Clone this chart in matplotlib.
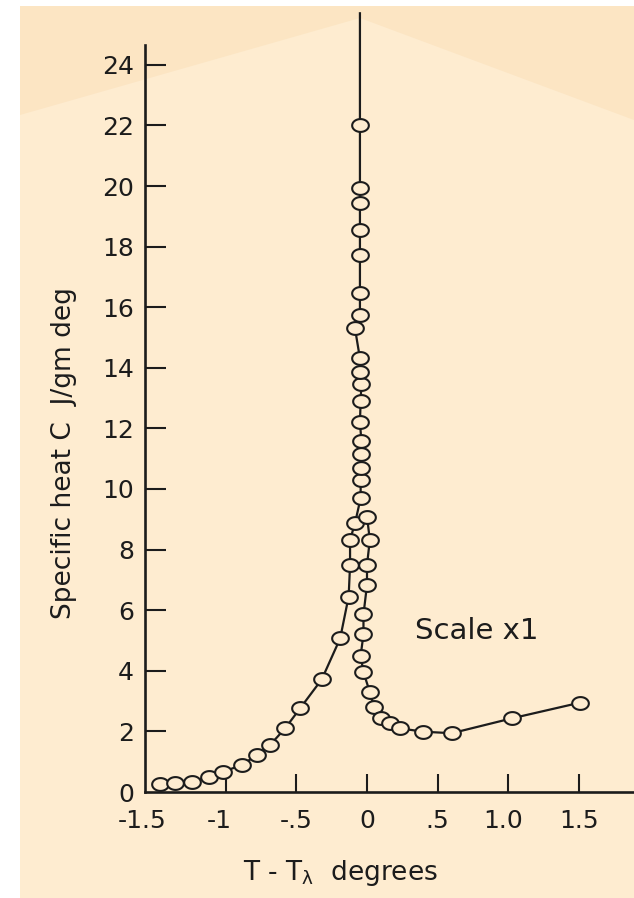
import numpy as np
import matplotlib
matplotlib.use("Agg")
import matplotlib.pyplot as plt
from matplotlib.path import Path
from matplotlib.patches import Rectangle, Polygon
from matplotlib.transforms import ScaledTranslation

# ---------------- data ----------------
# Below the lambda point (T < T_lambda); last entry is the line running off the top (no marker)
left_T = [-1.466, -1.36, -1.24, -1.117, -1.018, -0.887, -0.78, -0.687, -0.58, -0.474,
          -0.32, -0.19, -0.13, -0.12, -0.12, -0.085,
          -0.045, -0.045, -0.04, -0.04, -0.04, -0.05, -0.045, -0.04, -0.05, -0.05,
          -0.085, -0.05, -0.05, -0.05, -0.05, -0.05, -0.05, -0.05, -0.05]
left_C = [0.25, 0.29, 0.34, 0.50, 0.67, 0.89, 1.22, 1.55, 2.10, 2.76,
          3.72, 5.07, 6.45, 7.49, 8.32, 8.87,
          9.70, 10.30, 10.70, 11.15, 11.60, 12.20, 12.90, 13.45, 13.87, 14.31,
          15.30, 15.74, 16.48, 17.72, 18.55, 19.43, 19.92, 22.0, 25.7]

# Above the lambda point (T > T_lambda)
right_T = [0.0, 0.02, 0.0, 0.0, -0.025, -0.025, -0.045, -0.025, 0.02, 0.05,
           0.10, 0.16, 0.234, 0.40, 0.60, 1.025, 1.51]
right_C = [9.09, 8.32, 7.49, 6.83, 5.86, 5.20, 4.50, 3.95, 3.30, 2.80,
           2.45, 2.27, 2.10, 1.99, 1.94, 2.43, 2.95]

x_ticks = [-1.5, -1.0, -0.5, 0.0, 0.5, 1.0, 1.5]
x_tick_labels = ['-1.5', '-1', '-.5', '0', '.5', '1.0', '1.5']
y_ticks = list(range(0, 25, 2))
y_tick_labels = [str(v) for v in y_ticks]

# ---------------- styling ----------------
W, H = 634, 898
plt.rcParams['font.family'] = ['DejaVu Sans']
ink = '#1c1c1c'
bg_solid = '#fce5c3'
bg_dither = '#feecd0'

fig = plt.figure(figsize=(W / 100, H / 100), dpi=100)
fig.patch.set_facecolor('white')

# background panels (figure pixel coords -> fraction)
def fx(px):
    return px / W

def fy(py):
    return 1 - py / H

fig.patches.append(Rectangle((fx(20), 0), 1 - fx(20), fy(6), transform=fig.transFigure,
                             facecolor=bg_solid, edgecolor='none', zorder=-20))
mountain = [(20, 115), (360, 18), (634, 120), (634, 898), (20, 898)]
fig.patches.append(Polygon([(fx(a), fy(b)) for a, b in mountain], closed=True,
                           transform=fig.transFigure, facecolor=bg_dither,
                           edgecolor='none', zorder=-19))

# axes placement
x_left_px, x_right_px = 145, 634
y_bot_px, y_top_px = 792, 45
ax = fig.add_axes([fx(x_left_px), fy(y_bot_px), fx(x_right_px) - fx(x_left_px),
                   fy(y_top_px) - fy(y_bot_px)])
ax.set_zorder(1)
ax.set_facecolor('none')
px_per_T = 141.2
px_per_C = 30.3
ax.set_xlim(-(367 - x_left_px) / px_per_T, (x_right_px - 367) / px_per_T)
ax.set_ylim(0, (y_bot_px - y_top_px) / px_per_C)

# elliptical open marker (the original is horizontally stretched)
th = np.linspace(0, 2 * np.pi, 73)
ell = Path(np.column_stack([1.3 * np.cos(th), np.sin(th)]), closed=True)

ax.plot(left_T, left_C, color=ink, lw=1.6, marker=ell, markersize=12,
        markerfacecolor=bg_dither, markeredgecolor=ink, markeredgewidth=1.5,
        markevery=slice(0, len(left_T) - 1), clip_on=False, zorder=3)
ax.plot(right_T, right_C, color=ink, lw=1.6, marker=ell, markersize=12,
        markerfacecolor=bg_dither, markeredgecolor=ink, markeredgewidth=1.5,
        clip_on=False, zorder=3)

# spines
for s in ['top', 'right']:
    ax.spines[s].set_visible(False)
for s in ['left', 'bottom']:
    ax.spines[s].set_linewidth(1.9)
    ax.spines[s].set_color(ink)

ax.set_xticks(x_ticks)
ax.set_xticklabels(x_tick_labels)
ax.set_yticks(y_ticks)
ax.set_yticklabels(y_tick_labels)
ax.tick_params(axis='x', direction='in', length=13, width=1.5, pad=12,
               labelsize=18, colors=ink)
ax.tick_params(axis='y', direction='in', length=15, width=1.5, pad=8,
               labelsize=18, colors=ink)
ax.yaxis.get_major_ticks()[0].tick1line.set_visible(False)
ax.xaxis.get_major_ticks()[0].tick1line.set_visible(False)

# nudge a few x labels the way they sit in the original
shifts = {0: -13, 1: -7, 5: -5}
for i, lab in enumerate(ax.get_xticklabels()):
    if i in shifts:
        lab.set_transform(lab.get_transform() +
                          ScaledTranslation(shifts[i] / 100, 0, fig.dpi_scale_trans))

# labels
fig.text(fx(64), fy(453), 'Specific heat C  J/gm deg', rotation=90,
         ha='center', va='center', fontsize=19, color=ink)
fig.text(fx(340), fy(880), r'T - $\mathregular{T_\lambda}$  degrees',
         ha='center', va='baseline', fontsize=19, color=ink)
ax.text(0.34, 5.3, 'Scale x1', ha='left', va='center', fontsize=21, color=ink)

fig.savefig('out.png', dpi=100, facecolor=fig.get_facecolor())
